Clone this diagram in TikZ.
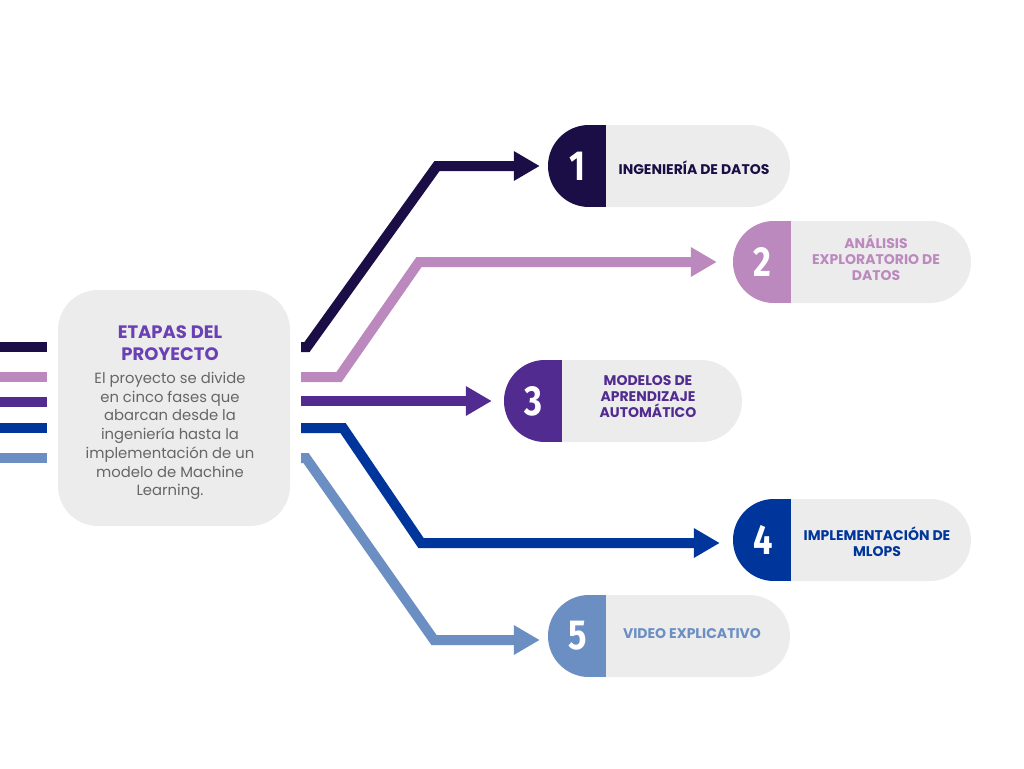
\documentclass[tikz,border=0pt]{standalone}
\usepackage{fontspec}
\setmainfont{Poppins}
\newfontfamily\numfont[FakeStretch=0.82]{Fira Sans}
\usetikzlibrary{arrows.meta,calc}

\definecolor{panel}{HTML}{ECECEC}
\definecolor{cone}{HTML}{1B0E46}
\definecolor{ctwo}{HTML}{BC89BE}
\definecolor{cthree}{HTML}{522B91}
\definecolor{cfour}{HTML}{00369B}
\definecolor{cfive}{HTML}{6B8FC2}
\definecolor{titlec}{HTML}{6A40B4}
\definecolor{bodyc}{HTML}{666666}

\begin{document}
\begin{tikzpicture}[x=1pt,y=-1pt,
  link/.style={line width=10pt,line join=miter,-{Triangle[length=26pt,width=28pt]}},
  stub/.style={line width=10pt},
  pill/.style 2 args={fill=panel, rounded corners=41pt, minimum width=#1,
    minimum height=82pt, inner sep=0pt,
    path picture={\fill[#2, sharp corners] (path picture bounding box.north west)
      rectangle ([xshift=58pt]path picture bounding box.south west);}},
  num/.style={text=white, font=\numfont\bfseries\fontsize{42}{42}\selectfont, inner sep=0pt},
  lab/.style={align=center, inner sep=0pt, font=\bfseries\fontsize{14}{16}\selectfont}
]
\useasboundingbox (0,0) rectangle (1024,768);

% central panel
\node[fill=panel, rounded corners=40pt, minimum width=232pt, minimum height=236pt,
      inner sep=0pt] (box) at (174,408) {};
\node[text=titlec, align=center, font=\bfseries\fontsize{18}{22}\selectfont]
  (title) at (170,343) {ETAPAS DEL\\PROYECTO};
\node[text=bodyc, align=center, font=\fontsize{14.8}{18.7}\selectfont]
  (body) at (170,436) {El proyecto se divide\\en cinco fases que\\abarcan desde la\\ingeniería hasta la\\implementación de un\\modelo de Machine\\Learning.};

% stage pills
\node[pill={242pt}{cone}]   (p1) at (669,166) {};
\node[pill={238pt}{ctwo}]   (p2) at (852,262) {};
\node[pill={238pt}{cthree}] (p3) at (623,401) {};
\node[pill={238pt}{cfour}]  (p4) at (852,540) {};
\node[pill={242pt}{cfive}]  (p5) at (669,636) {};

\node[num] (n1) at ([xshift=30pt]p1.west) {1};
\node[num] (n2) at ([xshift=30pt]p2.west) {2};
\node[num] (n3) at ([xshift=30pt]p3.west) {3};
\node[num] (n4) at ([xshift=30pt]p4.west) {4};
\node[num] (n5) at ([xshift=30pt]p5.west) {5};

\node[lab, text=cone]   (l1) at (694,168) {INGENIERÍA DE DATOS};
\node[lab, text=ctwo]   (l2) at (876,258) {ANÁLISIS\\EXPLORATORIO DE\\DATOS};
\node[lab, text=cthree] (l3) at (648,397) {MODELOS DE\\APRENDIZAJE\\AUTOMÁTICO};
\node[lab, text=cfour]  (l4) at (877,542) {IMPLEMENTACIÓN DE\\MLOPS};
\node[lab, text=cfive]  (l5) at (692,634) {VIDEO EXPLICATIVO};

% incoming stubs on the left edge
\coordinate (e1) at (0,347);   \coordinate (f1) at (47,347);
\coordinate (e2) at (0,377);   \coordinate (f2) at (47,377);
\coordinate (e3) at (0,402);   \coordinate (f3) at (47,402);
\coordinate (e4) at (0,428);   \coordinate (f4) at (47,428);
\coordinate (e5) at (0,458);   \coordinate (f5) at (47,458);
\draw[stub, cone]   (e1) -- (f1);
\draw[stub, ctwo]   (e2) -- (f2);
\draw[stub, cthree] (e3) -- (f3);
\draw[stub, cfour]  (e4) -- (f4);
\draw[stub, cfive]  (e5) -- (f5);

% outgoing links from the panel to each stage
\coordinate (s1) at (301,347);
\coordinate (s2) at (301,377);
\coordinate (s3) at (301,401);
\coordinate (s4) at (301,428);
\coordinate (s5) at (301,458);
\draw[link, cone, shorten >=8pt]    (s1) -- (307,347) -- (437,166) -- (p1.west);
\draw[link, ctwo, shorten >=16pt]   (s2) -- (339,377) -- (419,262) -- (p2.west);
\draw[link, cthree, shorten >=12pt] (s3) -- (p3.west);
\draw[link, cfour, shorten >=13pt]  (s4) -- (343,428) -- (421,543) -- ([yshift=-3pt]p4.west);
\draw[link, cfive, shorten >=8pt]   (s5) -- (306,458) -- (434,640) -- ([yshift=-4pt]p5.west);
\end{tikzpicture}
\end{document}
